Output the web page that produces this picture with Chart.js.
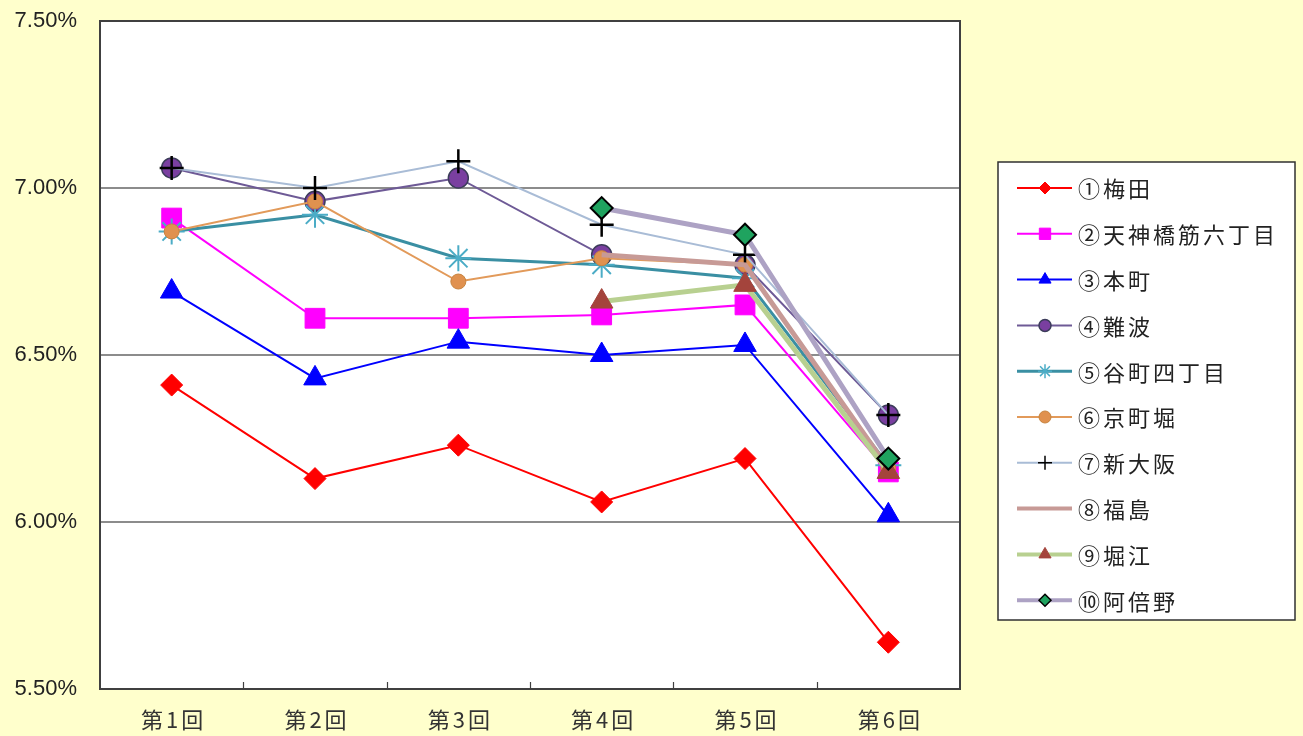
<!DOCTYPE html>
<html>
<head>
<meta charset="utf-8">
<script src="https://cdn.jsdelivr.net/npm/chart.js@4/dist/chart.umd.min.js"></script>
<style>
  html, body { margin: 0; padding: 0; background: #FFFFCC; }
  #wrap { width: 1303px; height: 736px; }
</style>
</head>
<body>
<div id="wrap"><canvas id="c" width="1303" height="736"></canvas></div>
<script>
// 調査回
const rounds = ['第1回', '第2回', '第3回', '第4回', '第5回', '第6回'];

// 地区名
const areaNames = ['①梅田', '②天神橋筋六丁目', '③本町', '④難波', '⑤谷町四丁目',
                   '⑥京町堀', '⑦新大阪', '⑧福島', '⑨堀江', '⑩阿倍野'];

// 各地区の利回り (%)
const umeda        = [6.41, 6.13, 6.23, 6.06, 6.19, 5.64];
const tenjinbashi  = [6.91, 6.61, 6.61, 6.62, 6.65, 6.15];
const honmachi     = [6.69, 6.43, 6.54, 6.50, 6.53, 6.02];
const namba        = [7.06, 6.96, 7.03, 6.80, 6.77, 6.32];
const tanimachi    = [6.87, 6.92, 6.79, 6.77, 6.73, 6.17];
const kyomachibori = [6.87, 6.96, 6.72, 6.79, 6.77, 6.16];
const shinosaka    = [7.06, 7.00, 7.08, 6.89, 6.80, 6.32];
const fukushima    = [null, null, null, 6.80, 6.77, 6.16];
const horie        = [null, null, null, 6.66, 6.71, 6.15];
const abeno        = [null, null, null, 6.94, 6.86, 6.19];

// 軸目盛
const yTicks = [5.50, 6.00, 6.50, 7.00, 7.50];

const seriesValues = [umeda, tenjinbashi, honmachi, namba, tanimachi,
                      kyomachibori, shinosaka, fukushima, horie, abeno];

// 線・マーカーの書式 (lr: 凡例のマーカー半径)
const styles = [
  { line: '#FF0000', fill: '#FF0000', border: '#FF0000', w: 2, ps: 'rectRot', r: 11, bw: 1, lr: 6 },
  { line: '#FF00FF', fill: '#FF00FF', border: '#FF00FF', w: 2, ps: 'rect', r: 14, bw: 1, lr: 8 },
  { line: '#0000FF', fill: '#0000FF', border: '#0000FF', w: 2, ps: 'triangle', r: 13, bw: 1, lr: 7 },
  { line: '#6E5A96', fill: '#7A3FA0', border: '#3C3C5A', w: 2, ps: 'circle', r: 10, bw: 1.5, lr: 6 },
  { line: '#3A8FA3', fill: '#4BACC6', border: '#4BACC6', w: 3, ps: 'star', r: 13, bw: 2, lr: 7 },
  { line: '#E29A5A', fill: '#E0914F', border: '#C8843F', w: 2, ps: 'circle', r: 7.5, bw: 1, lr: 6 },
  { line: '#A9BCD6', fill: '#000000', border: '#000000', w: 2, ps: 'cross', r: 12, bw: 2.5, lr: 7 },
  { line: '#C79A96', fill: '#C79A96', border: '#C79A96', w: 5, ps: 'circle', r: 0, bw: 0, lr: 0 },
  { line: '#B8D090', fill: '#A4443C', border: '#A4443C', w: 5, ps: 'triangle', r: 13, bw: 1, lr: 7 },
  { line: '#ADA2C4', fill: '#1FA35F', border: '#000000', w: 5, ps: 'rectRot', r: 11, bw: 2, lr: 6 }
];

const datasets = areaNames.map((name, i) => ({
  label: name,
  data: seriesValues[i],
  borderColor: styles[i].line,
  borderWidth: styles[i].w,
  backgroundColor: styles[i].fill,
  pointStyle: styles[i].ps,
  pointRadius: styles[i].r,
  pointHoverRadius: styles[i].r,
  pointBackgroundColor: styles[i].fill,
  pointBorderColor: styles[i].border,
  pointBorderWidth: styles[i].bw,
  legendRadius: styles[i].lr,
  tension: 0,
  spanGaps: false,
  order: 10 - i
}));

// 白い描画領域・枠線・x軸の内向き目盛・x軸ラベル
const plotFrame = {
  id: 'plotFrame',
  beforeDraw(chart) {
    const { ctx, chartArea: a } = chart;
    ctx.save();
    ctx.fillStyle = '#FFFFCC';
    ctx.fillRect(0, 0, chart.width, chart.height);
    ctx.fillStyle = '#FFFFFF';
    ctx.fillRect(a.left, a.top, a.right - a.left, a.bottom - a.top);
    ctx.restore();
  },
  afterDatasetsDraw(chart) {
    const { ctx, chartArea: a, scales } = chart;
    ctx.save();
    ctx.strokeStyle = '#404040';
    ctx.lineWidth = 2;
    ctx.strokeRect(a.left, a.top, a.right - a.left, a.bottom - a.top);
    const x = scales.x;
    const half = (x.getPixelForValue(1) - x.getPixelForValue(0)) / 2;
    ctx.lineWidth = 1.2;
    for (let i = 1; i < rounds.length; i++) {
      const px = Math.round(x.getPixelForValue(i) - half) + 0.5;
      ctx.beginPath();
      ctx.moveTo(px, a.bottom);
      ctx.lineTo(px, a.bottom - 7);
      ctx.stroke();
    }
    // x軸ラベル（字間を広めに）
    ctx.fillStyle = '#333333';
    ctx.font = '22px "Noto Sans CJK JP"';
    ctx.letterSpacing = '3px';
    ctx.textAlign = 'center';
    ctx.textBaseline = 'middle';
    rounds.forEach((lab, i) => {
      ctx.fillText(lab, x.getPixelForValue(i) + 2, 720);
    });
    ctx.restore();
  }
};

// 凡例（線とマーカー付き）
const lineLegend = {
  id: 'lineLegend',
  afterDraw(chart) {
    const ctx = chart.ctx;
    const box = { x: 998, y: 162, w: 297, h: 458 };
    ctx.save();
    ctx.fillStyle = '#FFFFFF';
    ctx.fillRect(box.x, box.y, box.w, box.h);
    ctx.strokeStyle = '#303030';
    ctx.lineWidth = 1.5;
    ctx.strokeRect(box.x, box.y, box.w, box.h);
    const step = 45.8;
    chart.data.datasets.forEach((ds, i) => {
      const y = 188 + i * step;
      ctx.strokeStyle = ds.borderColor;
      ctx.lineWidth = Math.min(ds.borderWidth, 4);
      ctx.beginPath();
      ctx.moveTo(1017, y);
      ctx.lineTo(1072, y);
      ctx.stroke();
      if (ds.legendRadius > 0) {
        ctx.fillStyle = ds.pointBackgroundColor;
        ctx.strokeStyle = ds.pointBorderColor;
        ctx.lineWidth = Math.min(ds.pointBorderWidth, 1.5);
        Chart.helpers.drawPoint(ctx, {
          pointStyle: ds.pointStyle,
          radius: ds.legendRadius,
          borderWidth: Math.min(ds.pointBorderWidth, 1.5),
          rotation: 0
        }, 1045, y);
      }
      ctx.fillStyle = '#222222';
      ctx.font = '22px "Noto Sans CJK JP"';
      ctx.letterSpacing = '3px';
      ctx.textBaseline = 'middle';
      ctx.textAlign = 'left';
      ctx.fillText(ds.label, 1078, y + 1);
    });
    ctx.restore();
  }
};

new Chart(document.getElementById('c'), {
  type: 'line',
  data: { labels: rounds, datasets },
  plugins: [plotFrame, lineLegend],
  options: {
    responsive: false,
    animation: false,
    layout: { padding: { top: 21, right: 343, left: 0, bottom: 0 } },
    plugins: { legend: { display: false }, tooltip: { enabled: false } },
    scales: {
      x: {
        type: 'category',
        offset: true,
        grid: { display: false },
        border: { display: false },
        ticks: { display: false },
        afterFit(scale) { scale.height = 47; }
      },
      y: {
        min: yTicks[0],
        max: yTicks[yTicks.length - 1],
        afterBuildTicks(scale) { scale.ticks = yTicks.map(v => ({ value: v })); },
        grid: {
          color: (c) => (c.tick && (c.tick.value === 5.5 || c.tick.value === 7.5)) ? 'rgba(0,0,0,0)' : '#8C8C8C',
          lineWidth: 2,
          drawTicks: false
        },
        border: { display: false },
        ticks: {
          color: '#222222',
          font: { family: '"Liberation Sans", Arial', size: 22 },
          padding: 23,
          callback: (v) => Number(v).toFixed(2) + '%'
        },
        afterFit(scale) {
          scale.width = 100;
          scale.paddingTop = 0;
          scale.paddingBottom = 0;
        }
      }
    }
  }
});
</script>
</body>
</html>
